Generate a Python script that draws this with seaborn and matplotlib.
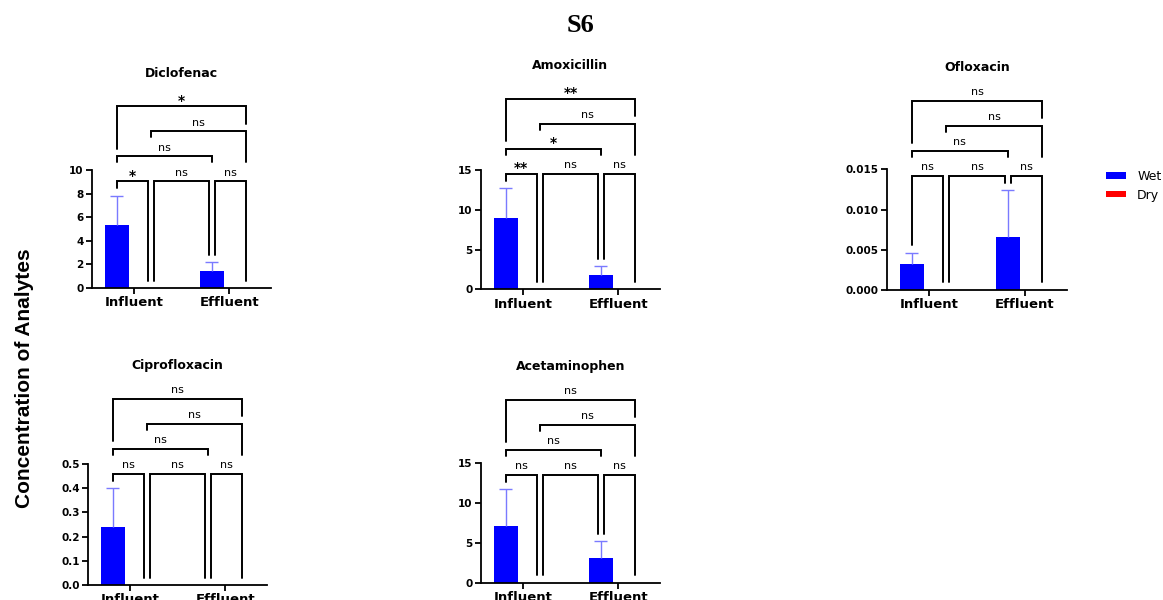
import matplotlib
matplotlib.use("Agg")
import matplotlib.pyplot as plt
import seaborn as sns
import pandas as pd
from matplotlib.patches import Patch

# ---------------- data ----------------
groups = ["Influent", "Effluent"]
conditions = ["Wet", "Dry"]

diclofenac_wet = [5.3, 1.4]
diclofenac_wet_err = [2.5, 0.8]
diclofenac_dry = [0.0, 0.0]
diclofenac_sig = ["*", "ns", "ns", "ns", "ns", "*"]
diclofenac_ticks = [0, 2, 4, 6, 8, 10]

amoxicillin_wet = [9.0, 1.8]
amoxicillin_wet_err = [3.7, 1.1]
amoxicillin_dry = [0.0, 0.0]
amoxicillin_sig = ["**", "ns", "ns", "*", "ns", "**"]
amoxicillin_ticks = [0, 5, 10, 15]

ofloxacin_wet = [0.0032, 0.0066]
ofloxacin_wet_err = [0.0014, 0.0058]
ofloxacin_dry = [0.0, 0.0]
ofloxacin_sig = ["ns", "ns", "ns", "ns", "ns", "ns"]
ofloxacin_ticks = [0.0, 0.005, 0.010, 0.015]
ofloxacin_ticklabels = ["0.000", "0.005", "0.010", "0.015"]

ciprofloxacin_wet = [0.24, 0.0]
ciprofloxacin_wet_err = [0.16, 0.0]
ciprofloxacin_dry = [0.0, 0.0]
ciprofloxacin_sig = ["ns", "ns", "ns", "ns", "ns", "ns"]
ciprofloxacin_ticks = [0.0, 0.1, 0.2, 0.3, 0.4, 0.5]

acetaminophen_wet = [7.1, 3.1]
acetaminophen_wet_err = [4.6, 2.1]
acetaminophen_dry = [0.0, 0.0]
acetaminophen_sig = ["ns", "ns", "ns", "ns", "ns", "ns"]
acetaminophen_ticks = [0, 5, 10, 15]

# ---------------- style ----------------
sns.set_style("ticks")
plt.rcParams["font.family"] = ["DejaVu Sans"]
plt.rcParams["text.color"] = "black"
plt.rcParams["axes.labelcolor"] = "black"
plt.rcParams["xtick.color"] = "black"
plt.rcParams["ytick.color"] = "black"
plt.rcParams["axes.edgecolor"] = "black"

W, H = 11.63, 6.0
fig = plt.figure(figsize=(W, H), dpi=100)

WET_C = "#0000ff"
DRY_C = "#ff0000"
ERR_C = "#7a7aff"

panels = [
    ("Diclofenac", diclofenac_wet, diclofenac_wet_err, diclofenac_dry, diclofenac_sig,
     diclofenac_ticks, [str(t) for t in diclofenac_ticks], [92, 288, 179, 118]),
    ("Amoxicillin", amoxicillin_wet, amoxicillin_wet_err, amoxicillin_dry, amoxicillin_sig,
     amoxicillin_ticks, [str(t) for t in amoxicillin_ticks], [481, 289.3, 179, 119.3]),
    ("Ofloxacin", ofloxacin_wet, ofloxacin_wet_err, ofloxacin_dry, ofloxacin_sig,
     ofloxacin_ticks, ofloxacin_ticklabels, [887, 290, 180, 120.7]),
    ("Ciprofloxacin", ciprofloxacin_wet, ciprofloxacin_wet_err, ciprofloxacin_dry, ciprofloxacin_sig,
     ciprofloxacin_ticks, ["%.1f" % t for t in ciprofloxacin_ticks], [88, 585, 179, 121]),
    ("Acetaminophen", acetaminophen_wet, acetaminophen_wet_err, acetaminophen_dry, acetaminophen_sig,
     acetaminophen_ticks, [str(t) for t in acetaminophen_ticks], [481, 582.7, 179, 120]),
]

XLIM = (-0.44, 1.44)

for title, wet, wet_err, dry, sig, ticks, ticklabels, (lpx, bpx, wpx, hpx) in panels:
    ax = fig.add_axes([lpx / 1163, (600 - bpx) / 600, wpx / 1163, hpx / 600])
    df = pd.DataFrame({
        "group": groups * 2,
        "condition": [conditions[0]] * 2 + [conditions[1]] * 2,
        "value": list(wet) + list(dry),
    })
    sns.barplot(data=df, x="group", y="value", hue="condition", order=groups,
                hue_order=conditions, palette={"Wet": WET_C, "Dry": DRY_C},
                width=0.72, gap=0.3, errorbar=None, legend=False, ax=ax,
                linewidth=0, saturation=1)
    ymax = ticks[-1]
    ax.set_ylim(0, ymax)
    ax.set_xlim(*XLIM)
    ax.set_yticks(ticks)
    ax.set_yticklabels(ticklabels)
    ax.set_xlabel("")
    ax.set_ylabel("")
    sns.despine(ax=ax)
    for s in ["left", "bottom"]:
        ax.spines[s].set_linewidth(1.3)
        ax.spines[s].set_color("black")
    ax.tick_params(axis="y", length=4, width=1.3, pad=2, labelsize=7.5, colors="black")
    ax.tick_params(axis="x", length=4, width=1.3, pad=2, labelsize=9.5, colors="black")
    for lab in ax.get_yticklabels() + ax.get_xticklabels():
        lab.set_fontweight("bold")

    # bar centres from the library's containers
    wet_bars = list(ax.containers[0])
    dry_bars = list(ax.containers[1])
    cx = lambda p: p.get_x() + p.get_width() / 2
    xs = [cx(wet_bars[0]), cx(dry_bars[0]), cx(wet_bars[1]), cx(dry_bars[1])]
    tops = [wet[0] + wet_err[0], dry[0], wet[1] + wet_err[1], dry[1]]

    # error bars (upper only)
    for p, v, e in zip(wet_bars, wet, wet_err):
        if e > 0:
            x = cx(p)
            hw = p.get_width() * 0.27
            ax.vlines(x, v, v + e, color=ERR_C, lw=1.0, zorder=3)
            ax.hlines(v + e, x - hw, x + hw, color=ERR_C, lw=1.0, zorder=3)

    # significance brackets (x in data, y in axes fraction)
    px = 1.0 / hpx
    trans = ax.get_xaxis_transform()
    dxd = 3.0 * (XLIM[1] - XLIM[0]) / wpx
    tf = [t / ymax for t in tops]
    H0 = max(tf) + 14.5 * px
    Hs = [H0 + i * 25 * px for i in range(4)]
    short = 6 * px
    gap = 7.5 * px

    def bracket(x1, x2, h, b1, b2, label):
        ax.plot([x1, x1, x2, x2], [b1, h, h, b2], color="black", lw=1.4,
                transform=trans, clip_on=False, solid_joinstyle="miter", zorder=4)
        xm = (x1 + x2) / 2
        if "*" in label:
            ax.text(xm, h + 1.5 * px, label, transform=trans, ha="center", va="baseline",
                    fontsize=10, fontweight="bold", clip_on=False)
        else:
            ax.text(xm, h + 5.5 * px, label, transform=trans, ha="center", va="baseline",
                    fontsize=8, clip_on=False)

    lb = lambda i: min(Hs[0] - short, tf[i] + gap)
    bracket(xs[0], xs[1] - dxd, Hs[0], lb(0), lb(1), sig[0])
    bracket(xs[1] + dxd, xs[2] - dxd, Hs[0], lb(1), lb(2), sig[1])
    bracket(xs[2] + dxd, xs[3], Hs[0], lb(2), lb(3), sig[2])
    bracket(xs[0], xs[2], Hs[1], Hs[1] - short, Hs[1] - short, sig[3])
    bracket(xs[1], xs[3], Hs[2], Hs[2] - short, Hs[1] - short, sig[4])
    bracket(xs[0], xs[3], Hs[3], Hs[1] + gap, Hs[2] + gap, sig[5])

    ax.text(0.5, Hs[3] + 33 * px, title, transform=ax.transAxes, ha="center",
            va="center", fontsize=9, fontweight="bold")

# legend
handles = [Patch(facecolor=WET_C, edgecolor="none"), Patch(facecolor=DRY_C, edgecolor="none")]
fig.legend(handles, conditions, loc="upper left", bbox_to_anchor=(1106 / 1163, 1 - 170 / 600),
           frameon=False, fontsize=9, handlelength=1.6, handleheight=0.4,
           handletextpad=0.9, labelspacing=0.45, borderpad=0, borderaxespad=0)

fig.text(25 / 1163, 1 - 378 / 600, "Concentration of Analytes", rotation=90,
         ha="center", va="center", fontsize=15, fontweight="bold",
         family=["Liberation Sans", "DejaVu Sans"])
fig.text(580 / 1163, 1 - 25 / 600, "S6", ha="center", va="center", fontsize=19,
         fontweight="bold", family=["Liberation Serif", "DejaVu Serif"])

fig.savefig("out.png", dpi=100)
